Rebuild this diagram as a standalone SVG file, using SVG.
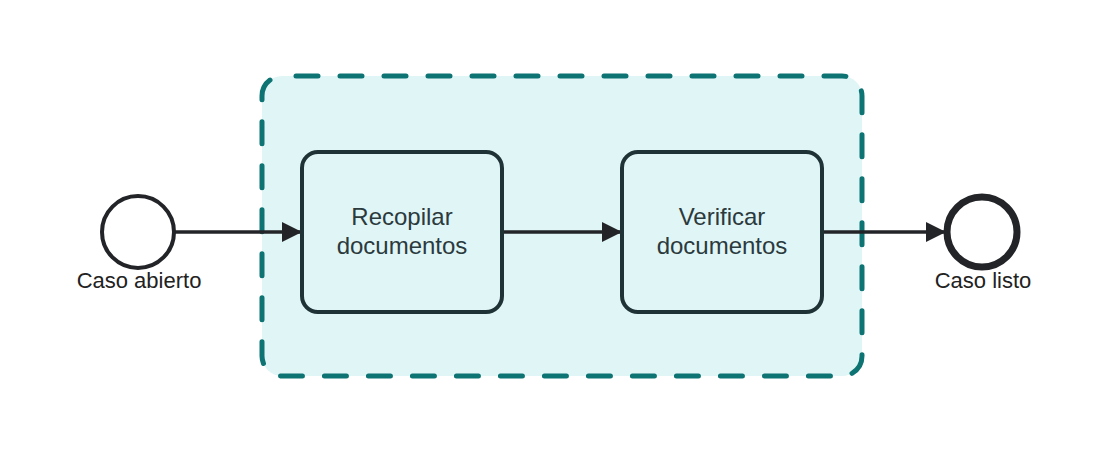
<svg xmlns="http://www.w3.org/2000/svg" width="1108" height="452" viewBox="0 0 1108 452">
<style>
.task{fill:#e0f5f6;stroke:#1f3336;stroke-width:4}
.lbl{font-family:"Liberation Sans",Arial,sans-serif;font-size:24px;fill:#2b3a3d;text-anchor:middle}
.ev{font-family:"Liberation Sans",Arial,sans-serif;font-size:22px;fill:#222;text-anchor:middle}
.flow{stroke:#222428;stroke-width:3.5;fill:none}
</style>
<defs>
<marker id="ah" viewBox="0 0 20 20" refX="20" refY="10" markerWidth="20" markerHeight="20" markerUnits="userSpaceOnUse" orient="auto">
<path d="M0,0 L20,10 L0,20 Z" fill="#222428"/>
</marker>
</defs>
<rect width="1108" height="452" fill="#ffffff"/>
<g id="group">
<rect x="262" y="76" width="600" height="300" rx="20" fill="#e0f5f6" stroke="#0d7373" stroke-width="5" stroke-dasharray="22 22" stroke-dashoffset="-14" stroke-linecap="round"/>
</g>
<g id="connectors">
<line class="flow" x1="174" y1="232" x2="302" y2="232" marker-end="url(#ah)"/>
<line class="flow" x1="502" y1="232" x2="622" y2="232" marker-end="url(#ah)"/>
<line class="flow" x1="822" y1="232" x2="946" y2="232" marker-end="url(#ah)"/>
</g>
<g id="start">
<circle cx="138" cy="232" r="36" fill="#fff" stroke="#222428" stroke-width="4"/>
<text class="ev" x="139" y="288">Caso abierto</text>
</g>
<g id="task1">
<rect class="task" x="302" y="152" width="200" height="160" rx="16"/>
<text class="lbl" x="402" y="225">Recopilar</text>
<text class="lbl" x="402" y="254">documentos</text>
</g>
<g id="task2">
<rect class="task" x="622" y="152" width="200" height="160" rx="16"/>
<text class="lbl" x="722" y="225">Verificar</text>
<text class="lbl" x="722" y="254">documentos</text>
</g>
<g id="end">
<circle cx="982" cy="232" r="35" fill="#fff" stroke="#222428" stroke-width="7"/>
<text class="ev" x="983" y="288">Caso listo</text>
</g>
</svg>
